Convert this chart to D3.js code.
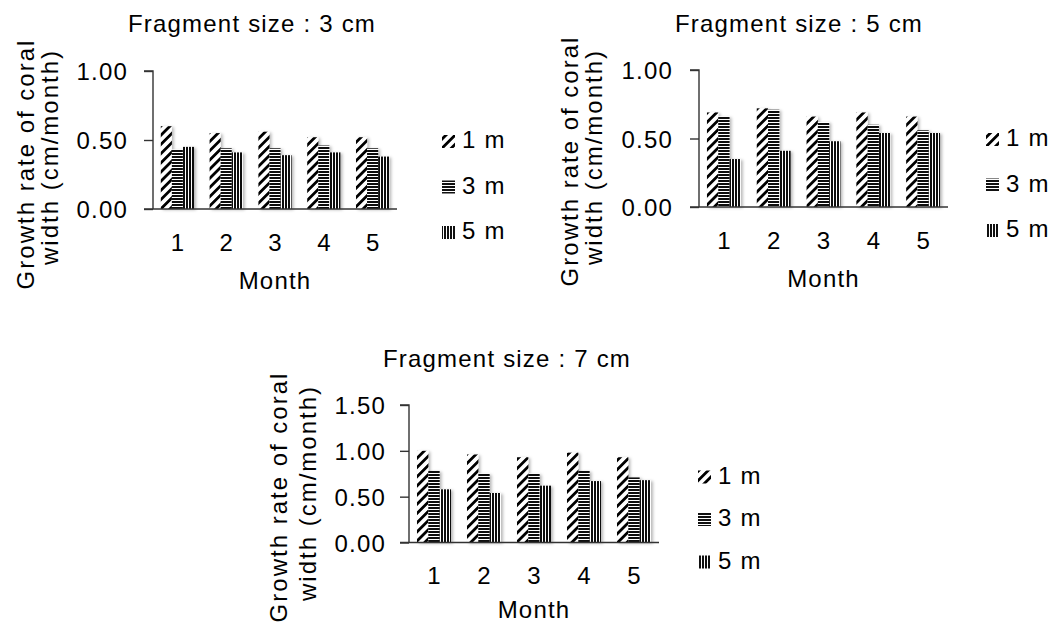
<!DOCTYPE html>
<html>
<head>
<meta charset="utf-8">
<script src="https://cdn.jsdelivr.net/npm/d3@7/dist/d3.min.js"></script>
<style>
  html, body { margin: 0; padding: 0; background: #fff; }
  svg { display: block; }
  text { font-family: "Liberation Sans", Arial, sans-serif; fill: #000; }
</style>
</head>
<body>
<svg id="chart" width="1057" height="623"></svg>
<script>
// Months on the x axis and water depths (series)
const months = ["1", "2", "3", "4", "5"];
const depths = ["1 m", "3 m", "5 m"];

// Growth rate of coral width (cm/month), fragment size 3 cm
const size3Depth1 = [0.60, 0.55, 0.56, 0.52, 0.52];
const size3Depth3 = [0.43, 0.44, 0.44, 0.46, 0.44];
const size3Depth5 = [0.45, 0.41, 0.39, 0.41, 0.38];

// Fragment size 5 cm
const size5Depth1 = [0.69, 0.72, 0.66, 0.69, 0.66];
const size5Depth3 = [0.66, 0.71, 0.62, 0.60, 0.56];
const size5Depth5 = [0.35, 0.41, 0.48, 0.54, 0.54];

// Fragment size 7 cm
const size7Depth1 = [1.00, 0.96, 0.93, 0.98, 0.93];
const size7Depth3 = [0.78, 0.75, 0.75, 0.78, 0.71];
const size7Depth5 = [0.58, 0.54, 0.62, 0.67, 0.68];

// Y tick values
const ticksTo100 = [0, 0.5, 1.0];
const ticksTo150 = [0, 0.5, 1.0, 1.5];

const titles = ["Fragment size : 3 cm", "Fragment size : 5 cm", "Fragment size : 7 cm"];
const yTitleLines = ["Growth rate of coral", "width (cm/month)"];
const xTitle = "Month";

const svg = d3.select("#chart");
const defs = svg.append("defs");

// Hatch fills: diagonal for 1 m, horizontal for 3 m, vertical for 5 m
const diag = defs.append("pattern").attr("id", "hatch-diag")
  .attr("patternUnits", "userSpaceOnUse").attr("width", 6.5).attr("height", 6.5)
  .attr("patternTransform", "rotate(45)");
diag.append("rect").attr("width", 6.5).attr("height", 6.5).attr("fill", "#fff");
diag.append("rect").attr("x", 0).attr("width", 2.8).attr("height", 6.5).attr("fill", "#000");

const horiz = defs.append("pattern").attr("id", "hatch-horiz")
  .attr("patternUnits", "userSpaceOnUse").attr("width", 3).attr("height", 3);
horiz.append("rect").attr("width", 3).attr("height", 3).attr("fill", "#fff");
horiz.append("rect").attr("width", 3).attr("height", 2).attr("fill", "#111");

const vert = defs.append("pattern").attr("id", "hatch-vert")
  .attr("patternUnits", "userSpaceOnUse").attr("width", 3).attr("height", 3);
vert.append("rect").attr("width", 3).attr("height", 3).attr("fill", "#fff");
vert.append("rect").attr("width", 2).attr("height", 3).attr("fill", "#111");

const fills = ["url(#hatch-diag)", "url(#hatch-horiz)", "url(#hatch-vert)"];

// Soft shadow behind the bars
const shadow = defs.append("filter").attr("id", "bar-shadow")
  .attr("x", "-20%").attr("y", "-10%").attr("width", "160%").attr("height", "130%");
shadow.append("feDropShadow").attr("dx", 2).attr("dy", 1)
  .attr("stdDeviation", 1.4).attr("flood-color", "#000").attr("flood-opacity", 0.28);

const panels = [
  {
    title: titles[0], series: [size3Depth1, size3Depth3, size3Depth5], ticks: ticksTo100,
    x0: 153, x1: 397, yTop: 71, yBase: 209,
    titleX: 252, titleY: 32,
    yTitle: [{ x: 34, cy: 164 }, { x: 58, cy: 157 }],
    tickLabelX: 128, xLabelY: 251, xTitleY: 289,
    legendX: 442, legendY: [148, 193.5, 239]
  },
  {
    title: titles[1], series: [size5Depth1, size5Depth3, size5Depth5], ticks: ticksTo100,
    x0: 699, x1: 948, yTop: 70, yBase: 207,
    titleX: 799, titleY: 32,
    yTitle: [{ x: 578, cy: 161 }, { x: 602, cy: 157 }],
    tickLabelX: 673, xLabelY: 249, xTitleY: 287,
    legendX: 986, legendY: [146, 191.5, 237]
  },
  {
    title: titles[2], series: [size7Depth1, size7Depth3, size7Depth5], ticks: ticksTo150,
    x0: 409, x1: 659, yTop: 405, yBase: 542.5,
    titleX: 507, titleY: 367,
    yTitle: [{ x: 287, cy: 497 }, { x: 316, cy: 493 }],
    tickLabelX: 386, xLabelY: 584, xTitleY: 618,
    legendX: 698, legendY: [483.5, 526, 568.5]
  }
];

const FONT = 24;
const SPACING = 1.2;

panels.forEach(p => {
  const g = svg.append("g");
  const maxV = p.ticks[p.ticks.length - 1];

  const x = d3.scaleBand().domain(months).range([p.x0, p.x1])
    .paddingInner(0.32).paddingOuter(0.16);
  const xs = d3.scaleBand().domain(depths).range([0, x.bandwidth()]).padding(0);
  const y = d3.scaleLinear().domain([0, maxV]).range([p.yBase, p.yTop]);

  // Bars
  const bars = g.append("g").attr("filter", "url(#bar-shadow)");
  depths.forEach((d, si) => {
    bars.selectAll(null).data(p.series[si]).enter().append("rect")
      .attr("x", (v, i) => x(months[i]) + xs(d))
      .attr("y", v => y(v))
      .attr("width", xs.bandwidth())
      .attr("height", v => y(0) - y(v))
      .attr("fill", fills[si]);
  });

  // Y axis
  const yAxis = d3.axisLeft(y).tickValues(p.ticks).tickSize(9).tickFormat(d3.format(".2f"));
  const ya = g.append("g").attr("transform", `translate(${p.x0},0)`).call(yAxis);
  ya.select(".domain").attr("stroke", "#333").attr("stroke-width", 1.4)
    .attr("d", `M${-9},${y(maxV)}H0V${y(0)}`);
  ya.selectAll(".tick line").attr("stroke", "#333").attr("stroke-width", 1.4);
  ya.selectAll(".tick text")
    .attr("x", p.tickLabelX - p.x0)
    .attr("dy", "0.36em")
    .style("font-size", FONT + "px")
    .style("letter-spacing", SPACING + "px")
    .attr("font-family", null)
    .attr("fill", "#000");

  // X axis (baseline only, no ticks)
  const xAxis = d3.axisBottom(x).tickSize(0).tickPadding(0);
  const xa = g.append("g").attr("transform", `translate(0,${p.yBase})`).call(xAxis);
  xa.select(".domain").attr("stroke", "#333").attr("stroke-width", 1.4)
    .attr("d", `M${p.x0 - 9},0H${p.x1}`);
  xa.selectAll(".tick text")
    .attr("y", p.xLabelY - p.yBase)
    .attr("dy", 0)
    .style("font-size", FONT + "px")
    .attr("font-family", null)
    .attr("fill", "#000");

  // Titles
  g.append("text").attr("x", p.titleX).attr("y", p.titleY)
    .attr("text-anchor", "middle").style("font-size", FONT + "px")
    .style("letter-spacing", SPACING + "px").text(p.title);

  g.append("text").attr("x", (p.x0 + p.x1) / 2).attr("y", p.xTitleY)
    .attr("text-anchor", "middle").style("font-size", FONT + "px")
    .style("letter-spacing", SPACING + "px").text(xTitle);

  yTitleLines.forEach((line, li) => {
    const pos = p.yTitle[li];
    g.append("text")
      .attr("transform", `translate(${pos.x},${pos.cy}) rotate(-90)`)
      .attr("text-anchor", "middle").style("font-size", FONT + "px")
      .style("letter-spacing", "2px").text(line);
  });

  // Legend
  depths.forEach((d, si) => {
    const by = p.legendY[si];
    g.append("rect").attr("x", p.legendX).attr("y", by - 13)
      .attr("width", 13).attr("height", 13).attr("fill", fills[si]);
    g.append("text").attr("x", p.legendX + 20).attr("y", by)
      .style("font-size", FONT + "px").style("letter-spacing", SPACING + "px")
      .text(d);
  });
});
</script>
</body>
</html>
